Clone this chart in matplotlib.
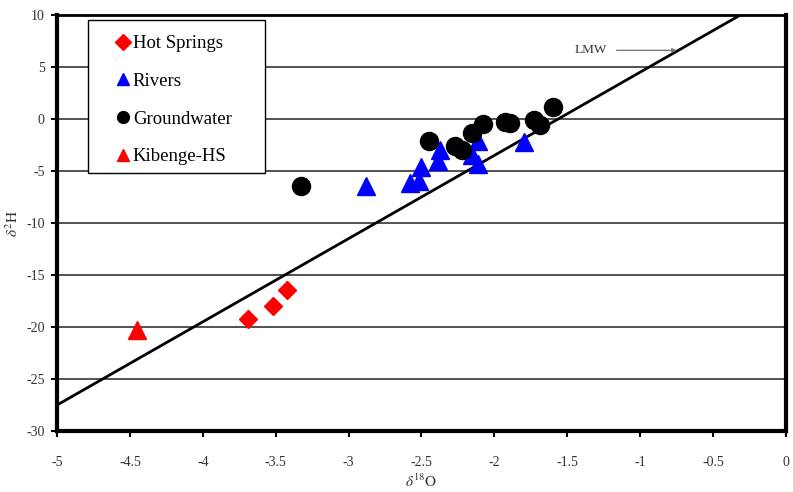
import numpy as np
import matplotlib.pyplot as plt
from matplotlib.patches import Rectangle

plt.rcParams['mathtext.fontset'] = 'stix'
plt.rcParams['axes.unicode_minus'] = False

# Values
hot_x = [-3.69, -3.52, -3.42]
hot_y = [-19.2, -18.0, -16.4]

riv_x = [-2.88, -2.58, -2.52, -2.50, -2.39, -2.37, -2.15, -2.11, -2.11, -1.80]
riv_y = [-6.4, -6.2, -6.0, -4.6, -4.0, -3.0, -3.5, -2.1, -4.3, -2.2]

gw_x = [-3.33, -2.45, -2.27, -2.22, -2.15, -2.08, -1.93, -1.89, -1.73, -1.69, -1.60]
gw_y = [-6.4, -2.1, -2.6, -3.0, -1.3, -0.5, -0.3, -0.4, -0.1, -0.6, 1.2]

kib_x = [-4.45]
kib_y = [-20.3]

# LMW: d2H = 8 * d18O + 12.5
lmw_slope = 8.0
lmw_icpt = 12.5

fig = plt.figure(figsize=(7.93, 4.92), dpi=100)
ax = fig.add_axes([0.072, 0.124, 0.919, 0.8455])

for yv in [-25, -20, -15, -10, -5, 0, 5]:
    ax.axhline(yv, color='#444444', lw=1.3, zorder=1)

lx = np.array([-5.0, (10 - lmw_icpt) / lmw_slope])
ax.plot(lx, lmw_slope * lx + lmw_icpt, color='black', lw=2, zorder=2)

ax.plot(hot_x, hot_y, 'D', color='#ff0000', ms=9, ls='none', label='Hot Springs', zorder=3)
ax.plot(riv_x, riv_y, '^', color='#0000ff', ms=13, ls='none', label='Rivers', zorder=3)
ax.plot(gw_x, gw_y, 'o', color='black', ms=13, ls='none', label='Groundwater', zorder=4)
ax.plot(kib_x, kib_y, '^', color='#ff0000', ms=13, ls='none', label='Kibenge-HS', zorder=3)

ax.set_xlim(-5, 0)
ax.set_ylim(-30, 10)
ax.set_xticks(np.arange(-5, 0.01, 0.5))
ax.set_xticklabels(['-5', '-4.5', '-4', '-3.5', '-3', '-2.5', '-2', '-1.5', '-1', '-0.5', '0'])
ax.set_yticks(np.arange(-30, 10.1, 5))

for lab in ax.get_xticklabels() + ax.get_yticklabels():
    lab.set_family('Liberation Serif')
    lab.set_fontsize(10)
    lab.set_color('#333333')
ax.tick_params(direction='out', length=4, width=1.5, color='black')
ax.tick_params(axis='x', pad=14)
ax.tick_params(axis='y', pad=5)

for s in ['left', 'bottom', 'right']:
    ax.spines[s].set_linewidth(3)
ax.spines['top'].set_linewidth(2)

ax.set_xlabel(r'$\delta^{18}\mathrm{O}$', fontsize=11, color='#333333', labelpad=3)
ax.set_ylabel(r'$\delta^{2}\mathrm{H}$', fontsize=11, color='#333333')
ax.yaxis.set_label_coords(-0.05, 0.5)

ax.annotate('LMW', xy=(-0.73, 6.6), xytext=(-1.45, 6.6),
            fontsize=9.5, family='Liberation Serif', color='#333333', va='center',
            arrowprops=dict(arrowstyle='-|>', color='#777777', lw=1, mutation_scale=6,
                            shrinkA=5))

# legend frame drawn separately so it matches the reference box size
ax.add_patch(Rectangle((0.0425, 0.62), 0.2425, 0.368, transform=ax.transAxes,
                       facecolor='white', edgecolor='black', lw=1, zorder=5))
leg = ax.legend(loc='upper left', bbox_to_anchor=(0.068, 0.97), frameon=False,
                prop={'family': 'Liberation Serif', 'size': 13.5},
                handletextpad=0.1, handlelength=0.9, labelspacing=1.1,
                borderpad=0.4, borderaxespad=0)
leg.set_zorder(6)
for h in leg.legend_handles:
    h.set_markersize(8.5)

fig.savefig('out.png', dpi=100)
